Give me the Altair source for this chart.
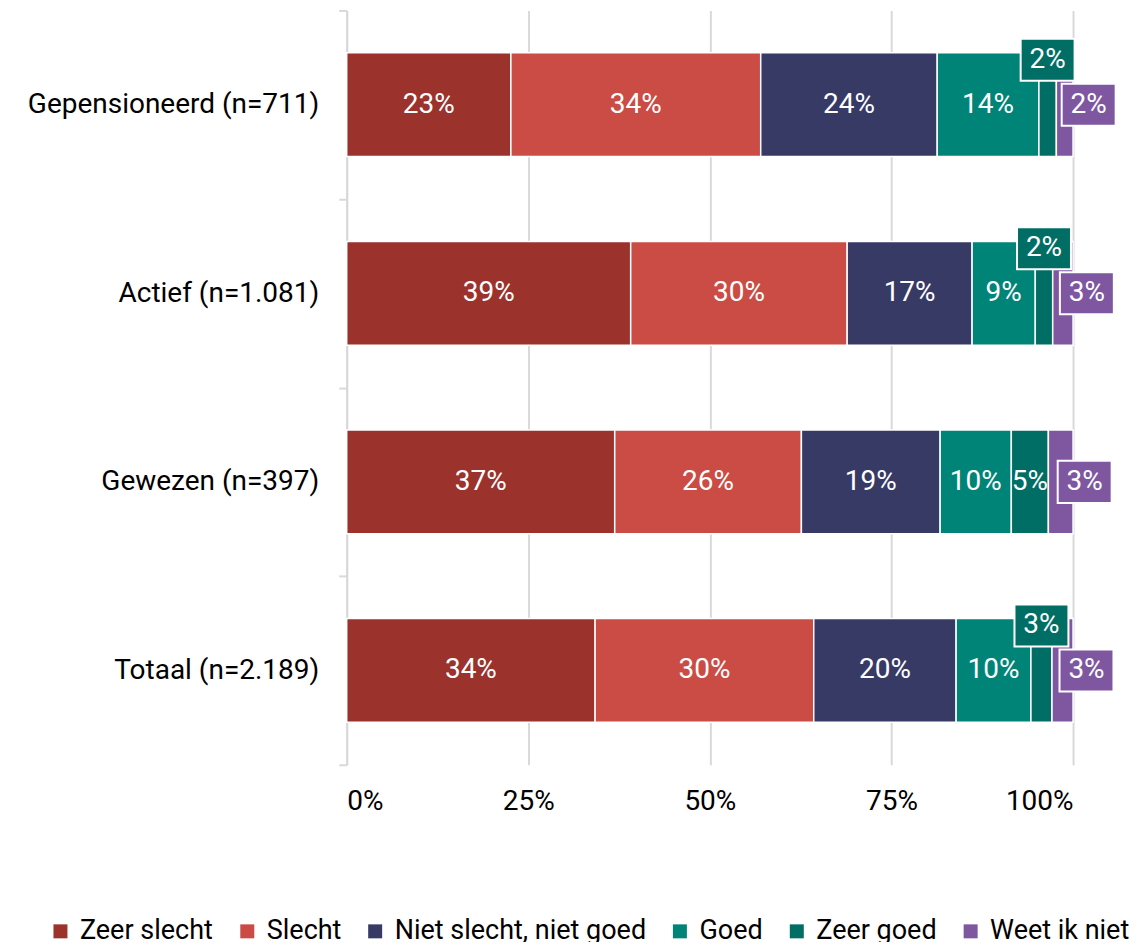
import altair as alt
import pandas as pd

groups = ["Gepensioneerd (n=711)", "Actief (n=1.081)", "Gewezen (n=397)", "Totaal (n=2.189)"]
categories = ["Zeer slecht", "Slecht", "Niet slecht, niet goed", "Goed", "Zeer goed", "Weet ik niet"]
colors = ["#9B322C", "#CB4C44", "#383A66", "#008477", "#006E64", "#7E57A0"]

zeer_slecht = [22.6, 39.1, 36.9, 34.2]
slecht = [34.4, 29.8, 25.7, 30.1]
niet_slecht_niet_goed = [24.3, 17.2, 19.1, 19.6]
goed = [14.0, 8.7, 9.8, 10.3]
zeer_goed = [2.4, 2.4, 5.1, 2.9]
weet_ik_niet = [2.3, 2.8, 3.4, 2.9]

series = [zeer_slecht, slecht, niet_slecht_niet_goed, goed, zeer_goed, weet_ik_niet]

rows = []
for gi, g in enumerate(groups):
    start = 0.0
    for ci, c in enumerate(categories):
        v = series[ci][gi]
        rows.append(dict(group=g, cat=c, value=v, start=start, end=start + v,
                         mid=start + v / 2, label=f"{int(round(v))}%", color=colors[ci]))
        start += v
df = pd.DataFrame(rows)

FONT = "Roboto"
FS = 28

y = alt.Y("group:N", sort=groups, title=None,
          scale=alt.Scale(paddingInner=0, paddingOuter=0),
          axis=alt.Axis(tickBand="extent", domainColor="#D9D9D9", tickColor="#D9D9D9",
                        domainWidth=2, tickWidth=2, tickSize=8, labelFont=FONT,
                        labelFontSize=FS, labelColor="black", labelPadding=20,
                        grid=False, labelLimit=0))

xaxis = alt.Axis(values=[0, 25, 50, 75, 100], labelExpr="datum.value + '%'", domain=False,
                 ticks=False, grid=True, gridColor="#D9D9D9", gridWidth=2, labelFont=FONT,
                 labelFontSize=FS, labelPadding=23, labelColor="black")
xscale = alt.Scale(domain=[0, 100], nice=False)

base = alt.Chart(df)

bars = base.mark_bar(stroke="white", strokeWidth=1.5, height=alt.RelativeBandSize(0.55)).encode(
    x=alt.X("start:Q", scale=xscale, axis=xaxis, title=None),
    x2="end:Q",
    y=y,
    color=alt.Color("cat:N", scale=alt.Scale(domain=categories, range=colors),
                    legend=alt.Legend(orient="none", legendX=-300, legendY=908,
                                      direction="horizontal", symbolType="square",
                                      symbolSize=196, symbolStrokeWidth=0,
                                      labelFont=FONT, labelFontSize=27, labelColor="black",
                                      columnPadding=20, labelOffset=6, labelLimit=0, title=None)),
)

inside = base.transform_filter("datum.value >= 4").mark_text(
    color="white", font=FONT, fontSize=FS).encode(
    x=alt.X("mid:Q", scale=xscale), y=y, text="label:N")

box_shape = "M-1,-0.78L1,-0.78L1,0.78L-1,0.78Z"

def callout(cat, dx, dy):
    sub = base.transform_filter(f"datum.cat == '{cat}' && datum.value < 4")
    box = sub.mark_point(shape=box_shape, size=2916, filled=True, stroke="white",
                         strokeWidth=2, opacity=1, xOffset=dx, yOffset=dy).encode(
        x=alt.X("mid:Q", scale=xscale), y=y, fill=alt.Fill("color:N", scale=None))
    txt = sub.mark_text(color="white", font=FONT, fontSize=FS, xOffset=dx, yOffset=dy).encode(
        x=alt.X("mid:Q", scale=xscale), y=y, text="label:N")
    return box + txt

chart = alt.layer(bars, inside, callout("Zeer goed", 0, -45), callout("Weet ik niet", 24, 0)).properties(
    width=727, height=755,
    autosize=alt.AutoSizeParams(type="none"),
    padding={"left": 339, "top": 2, "right": 56, "bottom": 177},
).configure_view(stroke=None)

chart.save("out.html", embed_options={"renderer": "svg", "actions": False})
